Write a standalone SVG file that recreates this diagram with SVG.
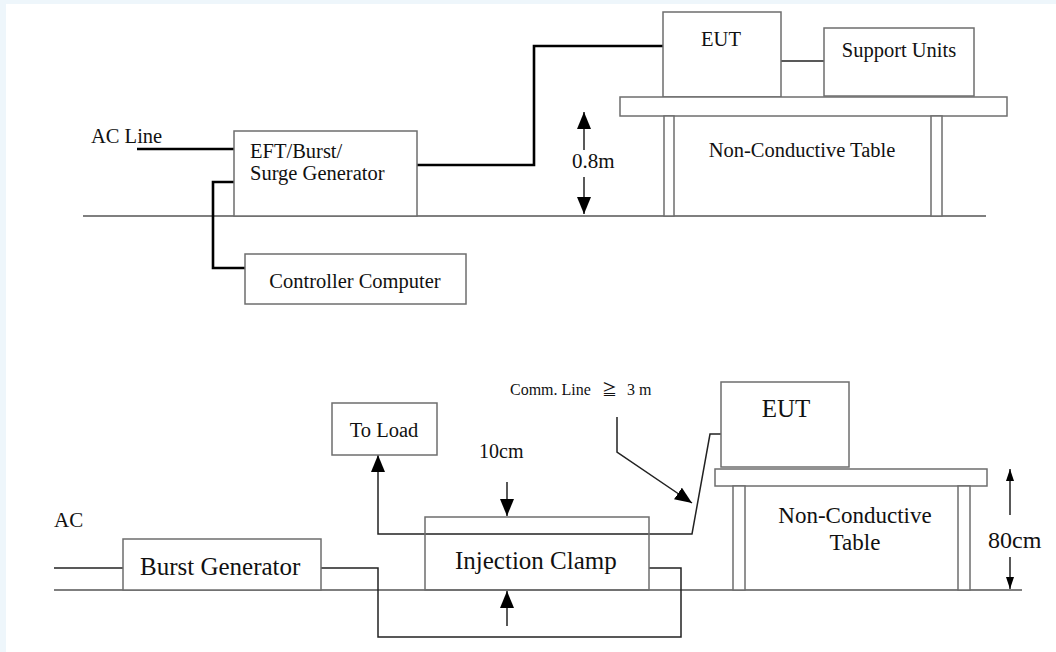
<svg xmlns="http://www.w3.org/2000/svg" width="1056" height="652" viewBox="0 0 1056 652">
<style>
  text { font-family: "Liberation Serif", "Noto Sans CJK JP", serif; fill: #111; }
  .box { fill: #fff; stroke: #6e6e6e; stroke-width: 1.5; }
  .thick { fill: none; stroke: #000; stroke-width: 2.6; }
  .thin { fill: none; stroke: #222; stroke-width: 1.5; }
  .ground { fill: none; stroke: #555; stroke-width: 1.6; }
  .t20 { font-size: 20.5px; }
  .t25 { font-size: 25px; }
  .mid { text-anchor: middle; }
</style>
<defs>
  <marker id="big" markerUnits="userSpaceOnUse" viewBox="0 0 17 14" markerWidth="17" markerHeight="14" refX="17" refY="7" orient="auto">
    <path d="M0,0 L17,7 L0,14 z" fill="#000"/>
  </marker>
  <marker id="small" markerUnits="userSpaceOnUse" viewBox="0 0 12 8" markerWidth="12" markerHeight="8" refX="12" refY="4" orient="auto">
    <path d="M0,0 L12,4 L0,8 z" fill="#000"/>
  </marker>
</defs>
<rect x="0" y="0" width="1056" height="652" fill="#eef6fb"/>
<rect x="6" y="4" width="1050" height="648" fill="#ffffff"/>

<!-- top diagram ground -->
<path class="ground" d="M83,216 H986"/>
<path class="ground" d="M54,590 H1022"/>

<g id="connectors">
  <path class="thick" d="M137,149 H234"/>
  <path class="thick" d="M417,165 H534 V46 H663"/>
  <path class="thick" d="M234,182 H213 V268 H245"/>
  <path class="thin" d="M781,61 H824"/>
  <path class="thin" d="M584,150 V112" marker-end="url(#big)"/>
  <path class="thin" d="M584,177 V214" marker-end="url(#big)"/>
  <path class="thin" d="M54,568 H123"/>
  <path class="thin" d="M321,568 H378 V637 H681 V568 H649"/>
  <path class="thin" d="M721,434 H710 L692,534 H378 V455" marker-end="url(#big)"/>
  <path class="thin" d="M617,417 V452 L692,503" marker-end="url(#big)"/>
  <path class="thin" d="M507,482 V516" marker-end="url(#big)"/>
  <path class="thin" d="M507,626 V591" marker-end="url(#big)"/>
  <path class="thin" d="M1010,515 V469" marker-end="url(#small)"/>
  <path class="thin" d="M1010,557 V589" marker-end="url(#small)"/>
</g>

<text class="t20" x="91" y="143">AC Line</text>
<text class="t20" x="572" y="168" style="font-size:21px">0.8m</text>

<g id="eft-generator">
  <rect class="box" x="234" y="131" width="183" height="85"/>
  <text class="t20" x="250" y="158">EFT/Burst/</text>
  <text class="t20" x="250" y="180">Surge Generator</text>
</g>
<g id="controller-computer">
  <rect class="box" x="245" y="254" width="221" height="50"/>
  <text class="t20 mid" x="355" y="288">Controller Computer</text>
</g>
<g id="eut-top">
  <rect class="box" x="663" y="12" width="118" height="85"/>
  <text class="t20 mid" x="721" y="46">EUT</text>
</g>
<g id="support-units">
  <rect class="box" x="824" y="28" width="150" height="68"/>
  <text class="t20 mid" x="899" y="57">Support Units</text>
</g>
<g id="table-top">
  <rect class="box" x="620" y="97" width="387" height="19"/>
  <rect class="box" x="664" y="116" width="10" height="100"/>
  <rect class="box" x="931" y="116" width="11" height="100"/>
  <text class="t20 mid" x="802" y="157">Non-Conductive Table</text>
</g>

<!-- bottom diagram -->
<text x="54" y="527" style="font-size:21px">AC</text>
<text x="479" y="458" style="font-size:20px">10cm</text>
<text x="510" y="395" style="font-size:16px">Comm. Line</text>
<text x="602" y="395" style="font-size:15px">≧</text>
<text x="627" y="395" style="font-size:16px">3 m</text>
<text x="988" y="548" style="font-size:24px">80cm</text>

<g id="burst-generator">
  <rect class="box" x="123" y="539" width="198" height="51"/>
  <text class="t25" x="140" y="575">Burst Generator</text>
</g>
<g id="to-load">
  <rect class="box" x="332" y="403" width="105" height="52"/>
  <text class="t20 mid" x="384" y="437">To Load</text>
</g>
<g id="injection-clamp">
  <rect class="box" x="425" y="517" width="224" height="73" fill="none" style="fill:none"/>
  <text class="t25" x="455" y="569">Injection Clamp</text>
</g>
<g id="eut-bottom">
  <rect class="box" x="721" y="382" width="128" height="85"/>
  <text class="t25 mid" x="786" y="417">EUT</text>
</g>
<g id="table-bottom">
  <rect class="box" x="715" y="469" width="272" height="17"/>
  <rect class="box" x="733" y="486" width="12" height="104"/>
  <rect class="box" x="958" y="486" width="12" height="104"/>
  <text class="mid" x="855" y="523" style="font-size:23px">Non-Conductive</text>
  <text class="mid" x="855" y="550" style="font-size:23px">Table</text>
</g>
</svg>
